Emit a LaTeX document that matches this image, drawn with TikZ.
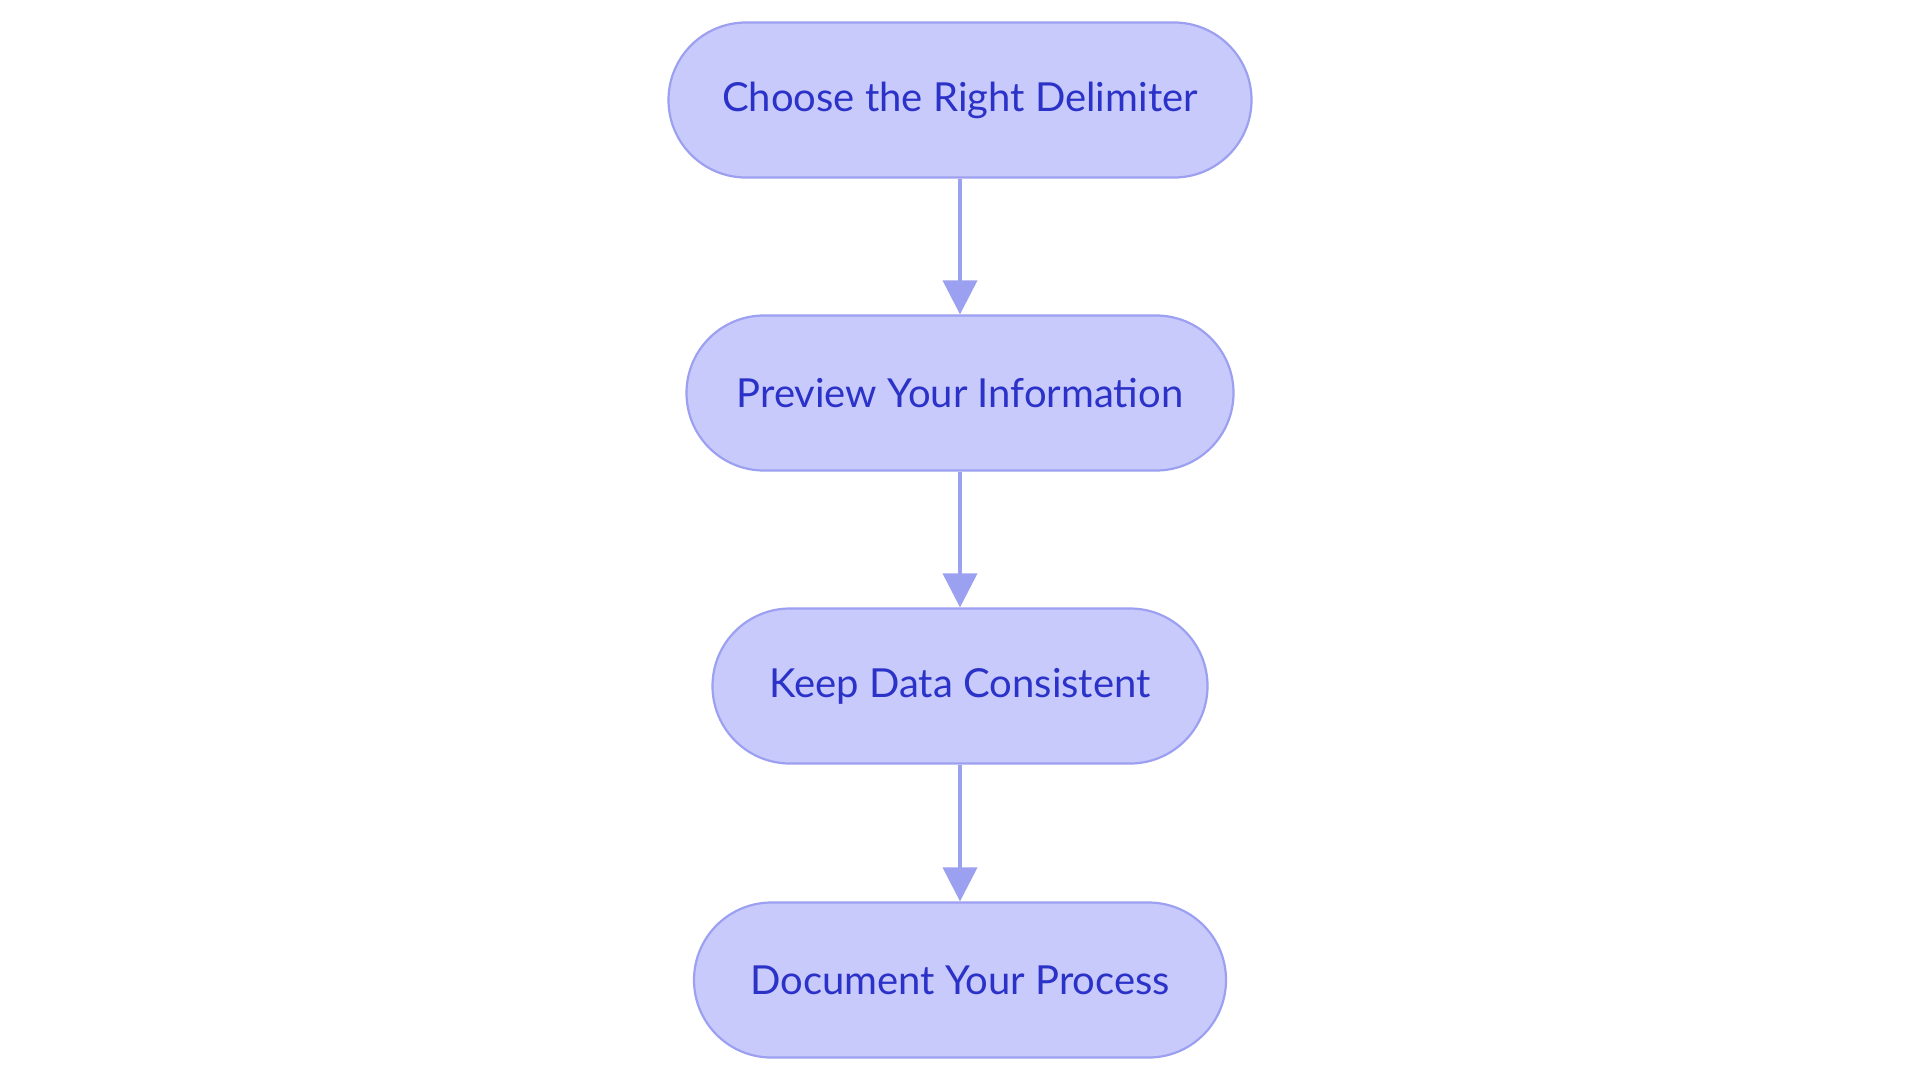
\documentclass[tikz,border=0pt]{standalone}
\usepackage{fontspec}
\setmainfont{Lato}
\usetikzlibrary{arrows.meta}
\definecolor{nodefill}{HTML}{C9CAFC}
\definecolor{nodeline}{HTML}{9CA0F0}
\definecolor{nodetext}{HTML}{2B32C8}
\tikzset{
  stepbox/.style={draw=nodeline, line width=1.1pt, fill=nodefill, text=nodetext,
    rounded corners=38.75pt, minimum height=77.5pt, inner sep=0pt,
    font=\fontsize{20}{24}\selectfont},
  flowarrow/.style={draw=nodeline, line width=2pt,
    -{Triangle[length=17pt,width=17pt]}}
}
\begin{document}
\begin{tikzpicture}[x=0.5pt,y=-0.5pt]
\useasboundingbox (0,0) rectangle (1920,1083);
\node[stepbox, minimum width=291.5pt] (a) at (960,100) {Choose the Right Delimiter};
\node[stepbox, minimum width=273.5pt] (b) at (960,393) {Preview Your Information};
\node[stepbox, minimum width=247.5pt] (c) at (960,686) {Keep Data Consistent};
\node[stepbox, minimum width=266pt] (d) at (960,980) {Document Your Process};
\draw[flowarrow] (a) -- (b);
\draw[flowarrow] (b) -- (c);
\draw[flowarrow] (c) -- (d);
\end{tikzpicture}
\end{document}
